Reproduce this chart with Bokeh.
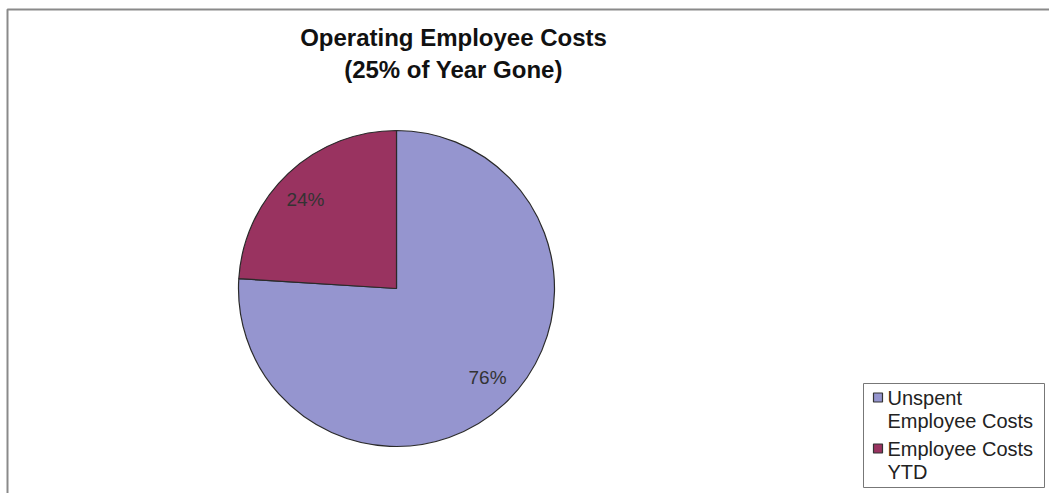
import math
from bokeh.plotting import figure
from bokeh.models import Range1d, ColumnDataSource
from bokeh.core.properties import value
from bokeh.embed import file_html
from bokeh.resources import INLINE

# data
categories = ["Unspent\nEmployee Costs", "Employee Costs\nYTD"]
shares = [76, 24]
slice_labels = ["76%", "24%"]
colors = ["#9595CF", "#993360"]
title_lines = ["Operating Employee Costs", "(25% of Year Gone)"]

W, H = 1049, 493
FONT = value("Liberation Sans")
p = figure(width=W, height=H, output_backend="svg", toolbar_location=None,
           x_range=Range1d(0, W), y_range=Range1d(0, H), min_border=0,
           outline_line_color=None, background_fill_color="white")
p.xaxis.visible = False
p.yaxis.visible = False
p.grid.visible = False

def Y(px):
    return H - px

# chart border (top and left visible, right/bottom beyond window)
p.quad(left=[7], right=[W + 50], top=[Y(9)], bottom=[-50],
       fill_color=None, line_color="#8a8a8a", line_width=2)

cx, cy, r = 396, Y(288), 158
total = float(sum(shares))
starts = [0.0] * len(shares)
ends = [0.0] * len(shares)
cum = math.pi / 2
for i in reversed(range(len(shares))):
    starts[i] = cum
    ends[i] = cum + 2 * math.pi * shares[i] / total
    cum = ends[i]
mids = [(s + e) / 2 + math.radians(2.5) for s, e in zip(starts, ends)]
lx = [cx + 0.805 * r * math.cos(m) for m in mids]
ly = [cy + 0.805 * r * math.sin(m) for m in mids]

src = ColumnDataSource(dict(x=[cx] * len(shares), y=[cy] * len(shares),
                            s=starts, e=ends, c=colors))
p.wedge(x="x", y="y", radius=r, start_angle="s", end_angle="e", source=src,
        fill_color="c", line_color="#2a2a2a", line_width=1.2)

p.text(x=lx, y=ly, text=slice_labels, text_align="center", text_baseline="middle",
       text_font=FONT, text_font_size="19px", text_color="#333333")

p.text(x=[453, 453], y=[Y(37), Y(69)], text=title_lines, text_align="center",
       text_baseline="middle", text_font=FONT, text_font_size="24px",
       text_font_style="bold", text_color="#111111")

# legend (drawn by hand so markers align with the first line of each label)
lg_left, lg_top, lg_right, lg_bottom = 863, 383, 1044, 487
p.quad(left=[lg_left], right=[lg_right], top=[Y(lg_top)], bottom=[Y(lg_bottom)],
       fill_color="white", line_color="#777777", line_width=1)
line_h = 23
item_h = 51
mk_x, tx_x = 877.5, 887
first_line = 397
mk_y = []
txt_x, txt_y, txt = [], [], []
for i, cat in enumerate(categories):
    y0 = first_line + i * item_h
    mk_y.append(Y(y0))
    for j, ln in enumerate(cat.split("\n")):
        txt_x.append(tx_x)
        txt_y.append(Y(y0 + j * line_h))
        txt.append(ln)
p.rect(x=[mk_x] * len(categories), y=mk_y, width=9, height=9,
       fill_color=colors, line_color="#333333", line_width=1.2)
p.text(x=txt_x, y=txt_y, text=txt, text_align="left", text_baseline="middle",
       text_font=FONT, text_font_size="20px", text_color="#222222")

open("out.html", "w").write(file_html(p, INLINE))
